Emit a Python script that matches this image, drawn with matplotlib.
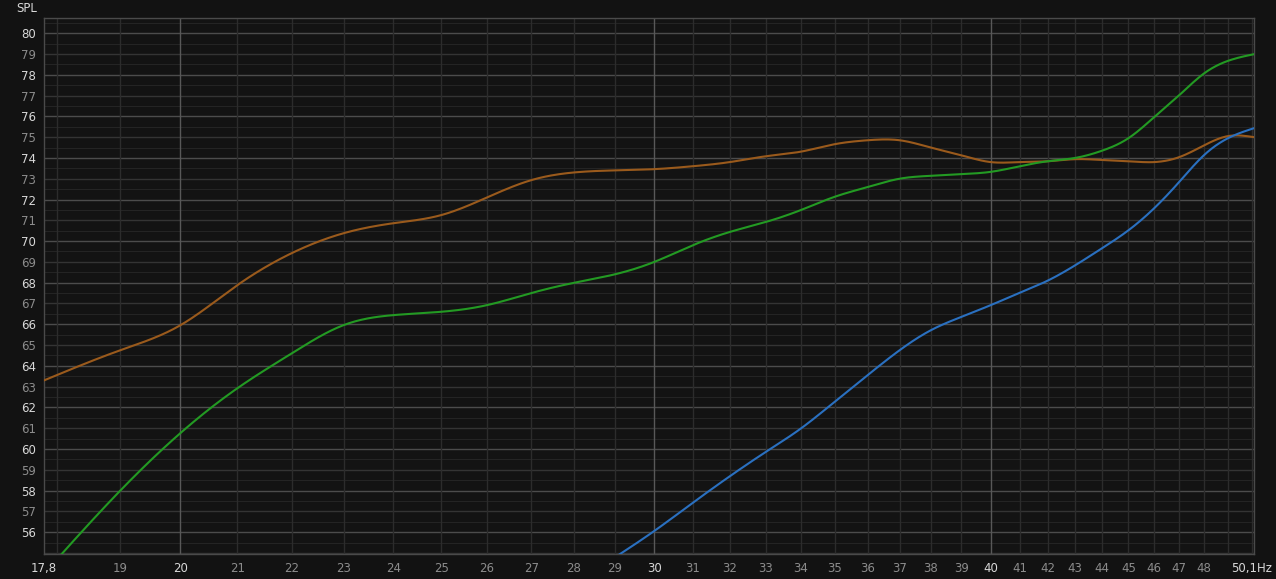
import numpy as np
import matplotlib
matplotlib.use("Agg")
import matplotlib.pyplot as plt
import matplotlib.transforms as mtrans

# ---- data ----
freq_brown = [17.8, 19, 20, 21, 22, 23, 24, 25, 26, 27, 28, 29, 30, 31, 32, 33, 34, 35,
              36, 37, 38, 39, 40, 41, 42, 43, 44, 45, 46, 47, 48, 49, 50.1]
spl_brown = [63.3, 64.75, 65.95, 67.88, 69.42, 70.38, 70.86, 71.25, 72.1, 72.93, 73.3,
             73.4, 73.46, 73.6, 73.8, 74.08, 74.3, 74.66, 74.85, 74.85, 74.5, 74.13, 73.8,
             73.8, 73.84, 73.94, 73.9, 73.84, 73.8, 74.04, 74.6, 75.05, 75.0]

freq_green = [17.8, 19, 20, 21, 22, 23, 24, 25, 26, 27, 28, 29, 30, 31, 32, 33, 34, 35,
              36, 37, 38, 39, 40, 41, 42, 43, 44, 45, 46, 47, 48, 49, 50.1]
spl_green = [54.0, 58.0, 60.76, 62.92, 64.6, 65.96, 66.44, 66.6, 66.92, 67.5, 67.99, 68.4,
             69.0, 69.8, 70.44, 70.92, 71.49, 72.13, 72.6, 73.0, 73.14, 73.22, 73.33, 73.6,
             73.84, 74.0, 74.35, 74.95, 75.96, 77.02, 78.06, 78.67, 78.99]

freq_blue = [29, 30, 31, 32, 33, 34, 35, 36, 37, 38, 39, 40, 41, 42, 43, 44, 45, 46, 47,
             48, 49, 50.1]
spl_blue = [54.78, 56.06, 57.41, 58.69, 59.86, 60.98, 62.27, 63.55, 64.75, 65.71, 66.35,
            66.92, 67.51, 68.1, 68.84, 69.66, 70.52, 71.58, 72.85, 74.13, 74.95, 75.43]

y_ticks = list(range(56, 81))
x_ticks = [17.8, 19, 20, 21, 22, 23, 24, 25, 26, 27, 28, 29, 30, 31, 32, 33, 34, 35, 36,
           37, 38, 39, 40, 41, 42, 43, 44, 45, 46, 47, 48, 50.1]
x_labels = ["17,8", "19", "20", "21", "22", "23", "24", "25", "26", "27", "28", "29", "30",
            "31", "32", "33", "34", "35", "36", "37", "38", "39", "40", "41", "42", "43",
            "44", "45", "46", "47", "48", "50,1Hz"]
bright_x = {"17,8", "20", "30", "40", "50,1Hz"}


def smooth(f, v, n=600):
    """Natural cubic spline in log-frequency for rendering."""
    x = np.log10(np.asarray(f, float))
    y = np.asarray(v, float)
    m = len(x)
    h = np.diff(x)
    A = np.zeros((m, m))
    b = np.zeros(m)
    A[0, 0] = A[-1, -1] = 1.0
    for i in range(1, m - 1):
        A[i, i - 1] = h[i - 1]
        A[i, i] = 2 * (h[i - 1] + h[i])
        A[i, i + 1] = h[i]
        b[i] = 3 * ((y[i + 1] - y[i]) / h[i] - (y[i] - y[i - 1]) / h[i - 1])
    c = np.linalg.solve(A, b)
    xs = np.linspace(x[0], x[-1], n)
    idx = np.clip(np.searchsorted(x, xs) - 1, 0, m - 2)
    dx = xs - x[idx]
    bb = (y[idx + 1] - y[idx]) / h[idx] - h[idx] * (2 * c[idx] + c[idx + 1]) / 3
    dd = (c[idx + 1] - c[idx]) / (3 * h[idx])
    ys = y[idx] + bb * dx + c[idx] * dx ** 2 + dd * dx ** 3
    return 10 ** xs, ys


BG = "#121212"
fig = plt.figure(figsize=(12.76, 5.79), dpi=100, facecolor=BG)
ax = fig.add_axes([44 / 1276, 25 / 579, 1210 / 1276, 536 / 579], facecolor="#131313")
ax.set_xscale("log")
ax.set_xlim(17.8, 50.1)
ax.set_ylim(54.95, 80.73)

# grid
for v in np.arange(55.0, 81.0, 0.5):
    if abs(v - round(v)) > 0.1:
        col, lw = "#242424", 0.8
    elif int(round(v)) % 2 == 0:
        col, lw = "#4c4c4c", 1.0
    else:
        col, lw = "#343434", 1.0
    ax.axhline(v, color=col, lw=lw, zorder=0)
for f in range(18, 51):
    col = "#585858" if f in (20, 30, 40) else "#2c2c2c"
    ax.axvline(f, color=col, lw=1.0, zorder=0)

for s in ax.spines.values():
    s.set_color("#4a4a4a")
    s.set_linewidth(1.0)

# curves
for f, v, c in [(freq_brown, spl_brown, "#9a5a1c"),
                (freq_green, spl_green, "#239a23"),
                (freq_blue, spl_blue, "#2a70c0")]:
    xs, ys = smooth(f, v)
    ax.plot(xs, ys, color=c, lw=1.5, solid_capstyle="round", zorder=3)

# ticks
ax.minorticks_off()
ax.set_yticks(y_ticks)
ax.set_yticklabels([str(t) for t in y_ticks])
for lab, t in zip(ax.get_yticklabels(), y_ticks):
    lab.set_color("#d8d8d8" if t % 2 == 0 else "#8c8c8c")
ax.set_xticks(x_ticks)
ax.set_xticklabels(x_labels)
for lab, t in zip(ax.get_xticklabels(), x_labels):
    lab.set_color("#d8d8d8" if t in bright_x else "#8c8c8c")
ax.tick_params(axis="both", length=0, labelsize=8.5)
ax.tick_params(axis="y", pad=6)
ax.tick_params(axis="x", pad=6)

xl = ax.get_xticklabels()
xl[-1].set_horizontalalignment("right")
off_r = mtrans.ScaledTranslation(18 / 100, 0, fig.dpi_scale_trans)
xl[-1].set_transform(xl[-1].get_transform() + off_r)

fig.text(16 / 1276, 1 - 8 / 579, "SPL", color="#d8d8d8", fontsize=8.5,
         ha="left", va="center")

fig.savefig("out.png", dpi=100, facecolor=BG)
